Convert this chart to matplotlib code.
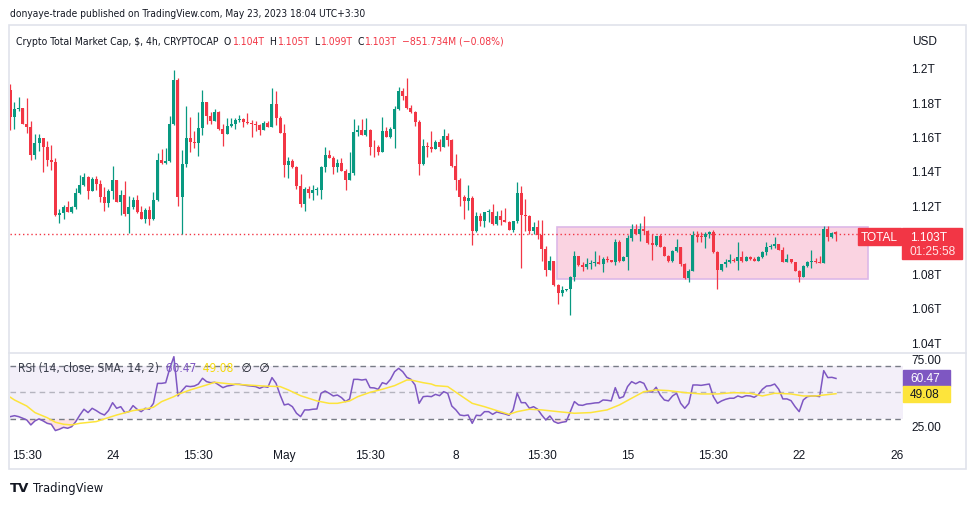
import numpy as np
import pandas as pd
import matplotlib
matplotlib.use("Agg")
import matplotlib.pyplot as plt
from matplotlib import font_manager as fm
from matplotlib.font_manager import FontProperties
from matplotlib.patches import Rectangle
from matplotlib.lines import Line2D
from matplotlib.transforms import IdentityTransform

plt.rcParams['font.family'] = ['Liberation Sans', 'DejaVu Sans']

# 4h bars of CRYPTOCAP:TOTAL (UTC), first visible bar
start = pd.Timestamp('2023-04-19 20:00')

opens = [
    1.1872, 1.1716, 1.1761, 1.1766, 1.1675, 1.1657, 1.1494, 1.1562, 1.1591, 1.1540,
    1.1464, 1.1453, 1.1142, 1.1153, 1.1188, 1.1161, 1.1188, 1.1270, 1.1318, 1.1365,
    1.1283, 1.1354, 1.1324, 1.1248, 1.1213, 1.1282, 1.1346, 1.1219, 1.1260, 1.1147,
    1.1188, 1.1229, 1.1161, 1.1120, 1.1171, 1.1120, 1.1229, 1.1463, 1.1445, 1.1455,
    1.1673, 1.1930, 1.1248, 1.1439, 1.1591, 1.1570, 1.1564, 1.1650, 1.1801, 1.1721,
    1.1690, 1.1743, 1.1644, 1.1616, 1.1661, 1.1673, 1.1696, 1.1702, 1.1685, 1.1679,
    1.1673, 1.1669, 1.1638, 1.1679, 1.1657, 1.1790, 1.1708, 1.1622, 1.1434, 1.1457,
    1.1422, 1.1313, 1.1206, 1.1293, 1.1270, 1.1288, 1.1290, 1.1424, 1.1492, 1.1474,
    1.1424, 1.1445, 1.1400, 1.1348, 1.1387, 1.1626, 1.1640, 1.1610, 1.1640, 1.1540,
    1.1536, 1.1511, 1.1634, 1.1599, 1.1644, 1.1761, 1.1866, 1.1838, 1.1766, 1.1741,
    1.1686, 1.1439, 1.1545, 1.1537, 1.1529, 1.1568, 1.1540, 1.1603, 1.1581, 1.1428,
    1.1348, 1.1245, 1.1225, 1.1241, 1.1050, 1.1136, 1.1107, 1.1159, 1.1162, 1.1091,
    1.1136, 1.1112, 1.1102, 1.1056, 1.1107, 1.1270, 1.1144, 1.1137, 1.1046, 1.1073,
    1.1027, 1.0943, 1.0822, 1.0873, 1.0733, 1.0686, 1.0705, 1.0708, 1.0778, 1.0900,
    1.0850, 1.0838, 1.0855, 1.0863, 1.0867, 1.0855, 1.0886, 1.0877, 1.0869, 1.0984,
    1.0873, 1.0896, 1.1007, 1.1060, 1.1032, 1.1060, 1.1050, 1.0978, 1.0968, 1.1017,
    1.0956, 1.0904, 1.0873, 1.0931, 1.0955, 1.0855, 1.0774, 1.0815, 1.1025, 1.1015,
    1.1013, 1.1031, 1.1042, 1.0924, 1.0822, 1.0855, 1.0869, 1.0880, 1.0871, 1.0896,
    1.0873, 1.0896, 1.0885, 1.0875, 1.0896, 1.0927, 1.0953, 1.0962, 1.0972, 1.0937,
    1.0869, 1.0885, 1.0865, 1.0816, 1.0781, 1.0845, 1.0865, 1.0875, 1.0865, 1.0863,
    1.1060, 1.1015, 1.1040]

highs = [
    1.1907, 1.1803, 1.1831, 1.1768, 1.1825, 1.1692, 1.1615, 1.1615, 1.1593, 1.1575,
    1.1550, 1.1474, 1.1177, 1.1200, 1.1223, 1.1196, 1.1297, 1.1375, 1.1385, 1.1371,
    1.1362, 1.1368, 1.1346, 1.1303, 1.1293, 1.1428, 1.1348, 1.1288, 1.1340, 1.1254,
    1.1248, 1.1258, 1.1196, 1.1182, 1.1196, 1.1278, 1.1504, 1.1527, 1.1531, 1.1721,
    1.1988, 1.1942, 1.1523, 1.1776, 1.1714, 1.1632, 1.1741, 1.1870, 1.1803, 1.1741,
    1.1761, 1.1749, 1.1671, 1.1708, 1.1706, 1.1706, 1.1726, 1.1708, 1.1737, 1.1696,
    1.1689, 1.1673, 1.1692, 1.1692, 1.1883, 1.1866, 1.1721, 1.1673, 1.1479, 1.1469,
    1.1428, 1.1381, 1.1305, 1.1313, 1.1317, 1.1305, 1.1426, 1.1537, 1.1521, 1.1486,
    1.1469, 1.1474, 1.1410, 1.1509, 1.1702, 1.1667, 1.1702, 1.1708, 1.1642, 1.1580,
    1.1550, 1.1714, 1.1654, 1.1654, 1.1780, 1.1889, 1.1885, 1.1942, 1.1784, 1.1749,
    1.1696, 1.1585, 1.1570, 1.1634, 1.1581, 1.1585, 1.1644, 1.1620, 1.1585, 1.1498,
    1.1359, 1.1258, 1.1317, 1.1254, 1.1157, 1.1155, 1.1161, 1.1177, 1.1206, 1.1167,
    1.1169, 1.1182, 1.1107, 1.1109, 1.1334, 1.1311, 1.1235, 1.1142, 1.1099, 1.1112,
    1.1112, 1.0959, 1.0900, 1.0875, 1.0739, 1.0729, 1.0711, 1.0787, 1.0930, 1.0902,
    1.0865, 1.0890, 1.0879, 1.0933, 1.0908, 1.0895, 1.0900, 1.0880, 1.1001, 1.0996,
    1.0904, 1.1023, 1.1089, 1.1089, 1.1095, 1.1136, 1.1054, 1.1031, 1.1019, 1.1029,
    1.0960, 1.0908, 1.0939, 1.1001, 1.0957, 1.0861, 1.0826, 1.1050, 1.1050, 1.1044,
    1.1044, 1.1048, 1.1056, 1.0933, 1.0857, 1.0885, 1.0914, 1.0889, 1.0986, 1.0933,
    1.0904, 1.0904, 1.0894, 1.0904, 1.0933, 1.0982, 1.0972, 1.1015, 1.0974, 1.0953,
    1.0914, 1.0887, 1.0870, 1.0822, 1.0847, 1.0875, 1.0939, 1.0889, 1.0904, 1.1079,
    1.1079, 1.1041, 1.1050]

lows = [
    1.1640, 1.1644, 1.1747, 1.1672, 1.1620, 1.1464, 1.1469, 1.1517, 1.1394, 1.1429,
    1.1406, 1.1137, 1.1097, 1.1118, 1.1157, 1.1155, 1.1178, 1.1266, 1.1313, 1.1235,
    1.1280, 1.1289, 1.1219, 1.1167, 1.1188, 1.1235, 1.1217, 1.1143, 1.1137, 1.1038,
    1.1177, 1.1153, 1.1118, 1.1095, 1.1085, 1.1115, 1.1225, 1.1439, 1.1438, 1.1451,
    1.1669, 1.1196, 1.1031, 1.1424, 1.1508, 1.1531, 1.1488, 1.1609, 1.1673, 1.1671,
    1.1688, 1.1638, 1.1546, 1.1613, 1.1657, 1.1644, 1.1686, 1.1657, 1.1673, 1.1599,
    1.1634, 1.1609, 1.1636, 1.1654, 1.1654, 1.1669, 1.1619, 1.1365, 1.1359, 1.1416,
    1.1295, 1.1190, 1.1167, 1.1243, 1.1229, 1.1258, 1.1237, 1.1394, 1.1472, 1.1383,
    1.1394, 1.1398, 1.1289, 1.1346, 1.1375, 1.1603, 1.1608, 1.1603, 1.1492, 1.1482,
    1.1492, 1.1509, 1.1597, 1.1593, 1.1533, 1.1756, 1.1815, 1.1761, 1.1735, 1.1663,
    1.1377, 1.1434, 1.1482, 1.1511, 1.1527, 1.1517, 1.1538, 1.1546, 1.1422, 1.1288,
    1.1196, 1.1118, 1.1171, 1.0966, 1.1044, 1.1079, 1.1073, 1.1102, 1.1081, 1.1083,
    1.1083, 1.1100, 1.1054, 1.1044, 1.1097, 1.0832, 1.1046, 1.1031, 1.1031, 1.1001,
    1.0875, 1.0787, 1.0820, 1.0729, 1.0622, 1.0670, 1.0698, 1.0559, 1.0754, 1.0845,
    1.0816, 1.0826, 1.0826, 1.0845, 1.0853, 1.0807, 1.0869, 1.0867, 1.0851, 1.0869,
    1.0871, 1.0822, 1.0991, 1.1030, 1.0991, 1.1030, 1.0972, 1.0880, 1.0962, 1.0953,
    1.0900, 1.0869, 1.0869, 1.0924, 1.0845, 1.0768, 1.0752, 1.0813, 1.0986, 1.0986,
    1.0951, 1.1010, 1.0918, 1.0709, 1.0816, 1.0840, 1.0861, 1.0865, 1.0822, 1.0865,
    1.0871, 1.0879, 1.0871, 1.0871, 1.0889, 1.0910, 1.0943, 1.0951, 1.0935, 1.0865,
    1.0865, 1.0861, 1.0814, 1.0749, 1.0778, 1.0836, 1.0830, 1.0861, 1.0861, 1.0861,
    1.0991, 1.1006, 1.0990]

closes = [
    1.1716, 1.1761, 1.1766, 1.1675, 1.1657, 1.1494, 1.1562, 1.1591, 1.1540, 1.1464,
    1.1453, 1.1142, 1.1153, 1.1188, 1.1161, 1.1188, 1.1270, 1.1318, 1.1365, 1.1283,
    1.1354, 1.1324, 1.1248, 1.1213, 1.1282, 1.1346, 1.1219, 1.1260, 1.1147, 1.1188,
    1.1229, 1.1161, 1.1120, 1.1171, 1.1120, 1.1229, 1.1463, 1.1445, 1.1455, 1.1673,
    1.1930, 1.1248, 1.1439, 1.1591, 1.1570, 1.1564, 1.1650, 1.1801, 1.1721, 1.1690,
    1.1743, 1.1644, 1.1616, 1.1661, 1.1673, 1.1696, 1.1702, 1.1685, 1.1679, 1.1673,
    1.1669, 1.1638, 1.1679, 1.1657, 1.1790, 1.1708, 1.1622, 1.1434, 1.1457, 1.1422,
    1.1313, 1.1206, 1.1293, 1.1270, 1.1288, 1.1290, 1.1424, 1.1492, 1.1474, 1.1424,
    1.1445, 1.1400, 1.1348, 1.1387, 1.1626, 1.1640, 1.1610, 1.1640, 1.1540, 1.1536,
    1.1511, 1.1634, 1.1599, 1.1644, 1.1761, 1.1866, 1.1838, 1.1766, 1.1741, 1.1686,
    1.1439, 1.1545, 1.1537, 1.1529, 1.1568, 1.1540, 1.1603, 1.1581, 1.1428, 1.1348,
    1.1245, 1.1225, 1.1241, 1.1050, 1.1136, 1.1107, 1.1159, 1.1162, 1.1091, 1.1136,
    1.1112, 1.1102, 1.1056, 1.1107, 1.1270, 1.1144, 1.1137, 1.1046, 1.1073, 1.1027,
    1.0943, 1.0822, 1.0873, 1.0733, 1.0686, 1.0705, 1.0708, 1.0778, 1.0900, 1.0850,
    1.0838, 1.0855, 1.0863, 1.0867, 1.0855, 1.0886, 1.0877, 1.0869, 1.0984, 1.0873,
    1.0896, 1.1007, 1.1060, 1.1032, 1.1060, 1.1050, 1.0978, 1.0968, 1.1017, 1.0956,
    1.0904, 1.0873, 1.0931, 1.0955, 1.0855, 1.0774, 1.0815, 1.1025, 1.1015, 1.1013,
    1.1031, 1.1042, 1.0924, 1.0822, 1.0855, 1.0869, 1.0880, 1.0871, 1.0896, 1.0873,
    1.0896, 1.0885, 1.0875, 1.0896, 1.0927, 1.0953, 1.0962, 1.0972, 1.0937, 1.0869,
    1.0885, 1.0865, 1.0816, 1.0781, 1.0845, 1.0865, 1.0875, 1.0865, 1.0863, 1.1060,
    1.1015, 1.1035, 1.1030]

rsi = [
    32.0, 32.7, 32.0, 30.8, 29.5, 25.8, 28.8, 30.3, 28.8, 27.0,
    26.3, 21.6, 22.6, 24.0, 23.3, 24.5, 28.3, 33.2, 37.5, 35.0,
    38.2, 36.5, 34.5, 33.2, 36.5, 42.4, 38.2, 39.4, 35.0, 35.7,
    40.2, 37.5, 35.7, 38.2, 37.5, 41.9, 56.8, 56.8, 57.3, 68.0,
    76.7, 47.4, 51.4, 54.8, 54.4, 54.8, 56.3, 60.6, 58.1, 57.3,
    57.6, 55.6, 53.6, 54.8, 55.3, 56.1, 56.1, 55.6, 55.1, 54.8,
    54.4, 53.1, 54.4, 53.9, 61.1, 56.8, 48.1, 40.7, 41.4, 39.4,
    34.5, 32.0, 37.0, 37.0, 37.5, 37.7, 49.4, 51.1, 49.4, 47.4,
    48.1, 46.2, 43.2, 45.2, 59.8, 59.8, 59.3, 59.8, 53.6, 53.4,
    52.4, 57.3, 56.3, 59.8, 65.5, 68.0, 65.5, 61.3, 59.8, 55.6,
    41.9, 46.9, 47.2, 46.9, 48.6, 47.6, 50.6, 49.4, 39.9, 37.0,
    33.2, 32.7, 33.2, 27.0, 33.0, 32.7, 35.7, 35.7, 33.7, 35.5,
    34.7, 34.0, 33.0, 37.0, 49.4, 42.4, 42.4, 38.2, 39.4, 37.5,
    33.2, 29.5, 32.5, 28.3, 27.0, 27.8, 28.3, 35.7, 43.2, 40.7,
    40.4, 41.4, 41.7, 42.2, 42.4, 44.4, 44.2, 43.7, 53.6, 45.7,
    46.9, 54.4, 58.1, 56.5, 58.1, 56.8, 50.6, 50.3, 53.9, 48.1,
    44.4, 43.7, 47.4, 49.4, 41.9, 38.2, 41.9, 55.6, 55.6, 55.3,
    55.8, 56.3, 46.9, 41.9, 43.7, 44.9, 45.7, 45.7, 47.4, 46.4,
    47.6, 47.4, 46.4, 48.4, 52.4, 54.8, 55.1, 56.3, 52.4, 45.2,
    45.2, 43.9, 39.4, 35.7, 44.4, 46.9, 47.4, 47.4, 46.9, 66.3,
    61.1, 61.3, 60.47]

# RSI-based MA, read at these bars
sma_bars = [0, 1, 4, 6, 9, 11, 13, 15, 17, 21, 23, 26, 30, 33, 35, 37, 40, 41, 44, 48,
            50, 54, 58, 62, 66, 68, 71, 75, 78, 80, 83, 85, 88, 91, 94, 97, 98, 101, 103, 104,
            107, 110, 113, 116, 119, 122, 124, 127, 130, 134, 138, 142, 146, 149, 152, 155, 158, 161, 165, 169,
            173, 177, 181, 184, 187, 191, 194, 197, 199, 202]
sma_vals = [46.4, 44.4, 39.9, 35.0, 31.2, 27.8, 26.3, 25.8, 27.0, 28.3,
            30.3, 33.2, 36.5, 37.7, 39.0, 43.2, 46.9, 48.6, 51.9, 55.6,
            57.6, 56.3, 55.6, 54.8, 54.4, 51.9, 47.6, 43.7, 41.9, 41.9,
            43.7, 46.9, 50.1, 52.4, 55.1, 59.3, 59.3, 57.3, 56.3, 55.1,
            54.4, 48.1, 41.9, 39.4, 36.5, 33.7, 35.7, 37.5, 37.0, 35.7,
            34.5, 35.0, 37.0, 40.7, 45.7, 50.6, 51.9, 51.4, 49.9, 48.9,
            48.9, 49.9, 49.4, 47.4, 49.4, 48.9, 47.4, 47.4, 48.1, 49.08]

tick_times = ['2023-04-20 12:00', '2023-04-24 00:00', '2023-04-27 12:00', '2023-05-01 00:00',
              '2023-05-04 12:00', '2023-05-08 00:00', '2023-05-11 12:00', '2023-05-15 00:00',
              '2023-05-18 12:00', '2023-05-22 00:00', '2023-05-26 00:00']
tick_labels = ['15:30', '24', '15:30', 'May', '15:30', '8', '15:30', '15', '15:30', '22', '26']
price_ticks = [1.04, 1.06, 1.08, 1.12, 1.14, 1.16, 1.18, 1.20]
price_labels = ['1.04T', '1.06T', '1.08T', '1.12T', '1.14T', '1.16T', '1.18T', '1.2T']

# range box drawn on the chart (bar index, price)
box_x = (133.7, 209.8)
box_y = (1.0768, 1.1071)

GREEN = '#089981'
RED = '#F23645'
PURPLE = '#7E57C2'
YELLOW = '#FDE43B'
TXT = '#131722'

o = np.array(opens)
h = np.array(highs)
l = np.array(lows)
c = np.array(closes)
r = np.array(rsi)
x = np.arange(len(c))
bar_h = pd.Timedelta(hours=4)
tick_pos = [(pd.Timestamp(t) - start) / bar_h for t in tick_times]

W, H = 976, 506
fig = plt.figure(figsize=(W / 100, H / 100), dpi=100)


def box(left, top, right, bottom):
    return [left / W, 1 - bottom / H, (right - left) / W, (bottom - top) / H]


ax = fig.add_axes(box(10, 27, 903, 353))
ax2 = fig.add_axes(box(10, 355, 903, 440), sharex=ax)

# candles
cols = np.where(c >= o, GREEN, RED)
ax.vlines(x, l, h, colors=cols, lw=0.9, zorder=3)
ax.bar(x, np.maximum(np.abs(c - o), 0.0004), bottom=np.minimum(o, c), width=0.74,
       color=cols, lw=0, zorder=4)
ax.add_patch(Rectangle((box_x[0], box_y[0]), box_x[1] - box_x[0], box_y[1] - box_y[0],
                       facecolor='#FAD3E1', edgecolor='#DDB8E8', lw=1.2, zorder=1))
ax.axhline(c[-1], color=RED, lw=1, ls=(0, (1, 2)), zorder=2)

ax.set_xlim(-0.1, 218.4)
ax.set_ylim(1.0342, 1.2245)
ax.yaxis.tick_right()
ax.set_yticks(price_ticks, price_labels)
ax.tick_params(axis='y', length=0, pad=6, labelsize=8.6, labelcolor=TXT)
ax.tick_params(axis='x', length=0, labelbottom=False)

# RSI panel
ax2.axhspan(30, 70, color=PURPLE, alpha=0.09, lw=0)
ax2.axhline(70, color='#787B86', lw=1, ls=(0, (4, 3)))
ax2.axhline(30, color='#787B86', lw=1, ls=(0, (4, 3)))
ax2.axhline(50, color='#787B86', lw=1, ls=(0, (4, 3)), alpha=0.5)
ax2.fill_between(x, r, 30, where=r < 30, interpolate=True, color=RED, alpha=0.15, lw=0)
ax2.fill_between(x, r, 70, where=r > 70, interpolate=True, color=GREEN, alpha=0.15, lw=0)
ax2.plot(x, r, color=PURPLE, lw=1.1)
ax2.plot(sma_bars, sma_vals, color=YELLOW, lw=1.1)
ax2.set_ylim(15.3, 78.7)
ax2.yaxis.tick_right()
ax2.set_yticks([25, 75], ['25.00', '75.00'])
ax2.tick_params(axis='y', length=0, pad=6, labelsize=8.6, labelcolor=TXT)
ax2.set_xticks(tick_pos, tick_labels)
ax2.tick_params(axis='x', length=0, pad=7, labelsize=8.6, labelcolor=TXT)

for a in (ax, ax2):
    for s in a.spines.values():
        s.set_visible(False)

ident = IdentityTransform()
# outer frame and panel separator
fig.add_artist(Rectangle((9, H - 470), 957, 444, fill=False, edgecolor='#E0E3EB', lw=1.2,
                         transform=ident))
fig.add_artist(Line2D([9, 966], [H - 354, H - 354], color='#E0E3EB', lw=1.2, transform=ident))

# last price labels
yd = ax.transData.transform((0, c[-1]))[1]
fig.add_artist(Rectangle((858, yd - 11), 43, 17, color=RED, transform=ident, zorder=5))
fig.text(879.5, yd - 2.5, 'TOTAL', color='white', fontsize=8.6, ha='center', va='center',
         transform=ident, zorder=6)
fig.add_artist(Rectangle((902, yd - 25), 60, 31, color=RED, transform=ident, zorder=5))
fig.text(910, yd - 3, f'{c[-1]:.3f}T', color='white', fontsize=8.6, va='center',
         transform=ident, zorder=6)
fig.text(910, yd - 17, '01:25:58', color='#FFE4E6', fontsize=8.6, va='center',
         transform=ident, zorder=6)

yr = ax2.transData.transform((0, r[-1]))[1]
fig.add_artist(Rectangle((903, yr - 8), 47, 16, color=PURPLE, transform=ident, zorder=5))
fig.text(910, yr, f'{r[-1]:.2f}', color='white', fontsize=8.6, va='center',
         transform=ident, zorder=6)
ys = ax2.transData.transform((0, sma_vals[-1]))[1]
fig.add_artist(Rectangle((903, ys - 8), 47, 16, color=YELLOW, transform=ident, zorder=5))
fig.text(910, ys, f'{sma_vals[-1]:.2f}', color=TXT, fontsize=8.6, va='center',
         transform=ident, zorder=6)

rend = fig.canvas.get_renderer()

# header font: a condensed sans if one is installed, else Liberation Sans
cond = [f for f in fm.fontManager.ttflist
        if ('Narrow' in f.name or 'Condensed' in f.fname) and f.style == 'normal'
        and f.weight in (400, 'normal', 'regular') and 'Mono' not in f.fname]
hdr_family = [cond[0].name] if cond else ['Liberation Sans']
hdr_stretch = cond[0].stretch if cond else 'normal'


def fit(text, width):
    # font size so that text spans the given pixel width
    t = fig.text(0, 0, text, fontsize=10, family=hdr_family, stretch=hdr_stretch)
    w = t.get_window_extent(rend).width
    t.remove()
    return 10 * width / w


def chain(x0, y0, parts, **kw):
    for s, col in parts:
        t = fig.text(x0, H - y0, s, color=col, va='center', transform=ident, **kw)
        x0 = t.get_window_extent(rend).x1
    return x0


line1 = 'donyaye-trade published on TradingView.com, May 23, 2023 18:04 UTC+3:30'
fig.text(10, H - 14, line1, color=TXT, fontsize=fit(line1, 355), va='center',
         transform=ident, family=hdr_family, stretch=hdr_stretch)

title = 'Crypto Total Market Cap, $, 4h, CRYPTOCAP'
fs2 = fit(title, 204)
chain(16, 42, [(title, TXT), ('  O', TXT),
               (f'{o[-1]:.3f}T', RED), ('  H', TXT), (f'{h[-1]:.3f}T', RED),
               ('  L', TXT), (f'{l[-1]:.3f}T', RED), ('  C', TXT), (f'{c[-1]:.3f}T', RED),
               ('  \u2212851.734M (\u22120.08%)', RED)],
      fontsize=fs2, family=hdr_family + ['DejaVu Sans'], stretch=hdr_stretch)
fig.text(912, H - 42, 'USD', color=TXT, fontsize=8.6, va='center', transform=ident)

leg = 'RSI (14, close, SMA, 14, 2)'
fs3 = fit(leg, 142)
xe = chain(18, 369, [(leg, '#3B3F4C'), (f'  {r[-1]:.2f}', PURPLE),
                     (f'  {sma_vals[-1]:.2f}', '#F5D90A')],
           fontsize=fs3, family=hdr_family, stretch=hdr_stretch)
chain(xe, 369, [('  \u2205  \u2205', TXT)], fontsize=fs3, family=['DejaVu Sans'])

fig.text(10, H - 489, 'TV', color=TXT, fontsize=9.5, fontweight='bold', va='center',
         transform=ident, family=['DejaVu Sans'])
foot = 'TradingView'
fig.text(33, H - 489, foot, color=TXT, fontsize=fit(foot, 70), va='center',
         transform=ident, family=hdr_family, stretch=hdr_stretch)

fig.savefig('out.png', dpi=100, facecolor='white')
